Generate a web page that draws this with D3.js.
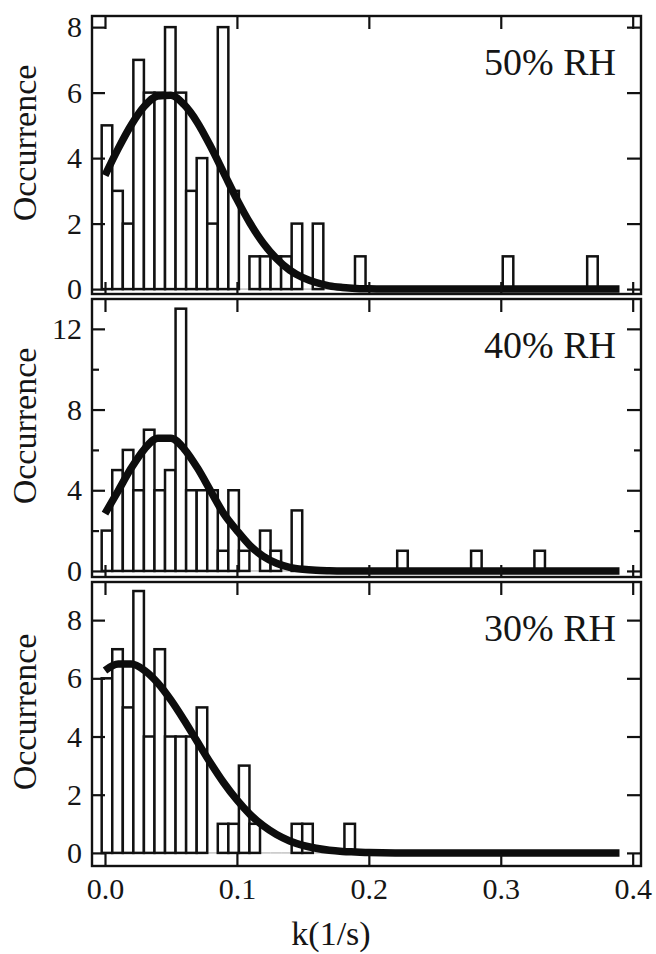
<!DOCTYPE html>
<html>
<head>
<meta charset="utf-8">
<script src="https://cdn.jsdelivr.net/npm/d3@7"></script>
<style>
body { margin: 0; background: #fff; }
svg text { font-family: "Liberation Serif", "Times New Roman", serif; fill: #151515; }
</style>
</head>
<body>
<svg id="chart" width="656" height="954"></svg>
<script>
var kTicks = [0, 0.1, 0.2, 0.3, 0.4];
var binWidth = 0.008;
var binCenters = [0.0015, 0.0095, 0.0175, 0.0255, 0.0335, 0.0415, 0.0495, 0.0575, 0.0655, 0.0735,
    0.0815, 0.0895, 0.0975, 0.1055, 0.1135, 0.1215, 0.1295, 0.1375, 0.1455, 0.1535,
    0.1615, 0.1695, 0.1775, 0.1855, 0.1935, 0.2015, 0.2095, 0.2175, 0.2255, 0.2335,
    0.2415, 0.2495, 0.2575, 0.2655, 0.2735, 0.2815, 0.2895, 0.2975, 0.3055, 0.3135,
    0.3215, 0.3295, 0.3375, 0.3455, 0.3535, 0.3615, 0.3695];
var counts50 = [5, 3, 2, 7, 6, 6, 8, 6, 3, 4, 2, 8, 3, 0, 1, 1, 1, 1, 2, 0,
    2, 0, 0, 0, 1, 0, 0, 0, 0, 0, 0, 0, 0, 0, 0, 0, 0, 0, 1, 0,
    0, 0, 0, 0, 0, 0, 1];
var counts40 = [2, 5, 6, 4, 7, 4, 5, 13, 4, 4, 4, 1, 4, 1, 0, 2, 1, 0, 3, 0,
    0, 0, 0, 0, 0, 0, 0, 0, 1, 0, 0, 0, 0, 0, 0, 1, 0, 0, 0, 0,
    0, 1, 0, 0, 0, 0, 0];
var counts30 = [6, 7, 5, 9, 4, 7, 4, 4, 4, 5, 0, 1, 1, 3, 1, 0, 0, 0, 1, 1,
    0, 0, 0, 1, 0, 0, 0, 0, 0, 0, 0, 0, 0, 0, 0, 0, 0, 0, 0, 0,
    0, 0, 0, 0, 0, 0, 0];
// fitted curves
var fitK = [0, 0.01, 0.02, 0.03, 0.04, 0.05, 0.06, 0.07, 0.08, 0.09, 0.10, 0.11,
    0.12, 0.13, 0.14, 0.15, 0.16, 0.17, 0.18, 0.19, 0.20, 0.22, 0.30, 0.39];
var fit50 = [3.47, 4.29, 5.02, 5.59, 5.90, 5.92, 5.63, 5.09, 4.36, 3.55, 2.74, 2.01,
    1.40, 0.93, 0.58, 0.35, 0.20, 0.10, 0.05, 0.02, 0.01, 0, 0, 0];
var fit40 = [2.84, 3.97, 5.11, 6.05, 6.58, 6.58, 6.05, 5.11, 3.97, 2.84, 2.0, 1.25,
    0.72, 0.38, 0.18, 0.08, 0.03, 0.01, 0, 0, 0, 0, 0, 0];
var fit30 = [6.27, 6.49, 6.49, 6.27, 5.84, 5.25, 4.56, 3.82, 3.09, 2.41, 1.82, 1.32,
    0.93, 0.63, 0.41, 0.26, 0.16, 0.09, 0.05, 0.03, 0.01, 0, 0, 0];

var FRAME = { LEFT: 92, RIGHT: 641 };
var svg = d3.select('#chart');

var x = d3.scaleLinear()
    .domain([-0.00985, 0.4063])
    .range([FRAME.LEFT, FRAME.RIGHT]);

var panels = [
    { label: '50% RH', counts: counts50, fit: fit50, top: 16, bottom: 294, yMin: -0.15, yMax: 8.34, major: [0, 2, 4, 6, 8], minor: [] },
    { label: '40% RH', counts: counts40, fit: fit40, top: 299, bottom: 577, yMin: -0.3, yMax: 13.48, major: [0, 4, 8, 12], minor: [2, 6, 10] },
    { label: '30% RH', counts: counts30, fit: fit30, top: 582, bottom: 866, yMin: -0.45, yMax: 9.31, major: [0, 2, 4, 6, 8], minor: [] }
];

var styleAxis = function (g) {
    g.select('.domain').remove();
    g.selectAll('.tick line').attr('stroke', '#111').attr('stroke-width', 2.2);
    g.selectAll('.tick text').style('font-size', '30px').attr('fill', '#151515');
};

panels.forEach(function (p, pi) {
    var y = d3.scaleLinear()
        .domain([p.yMin, p.yMax])
        .range([p.bottom, p.top]);
    var g = svg.append('g').attr('class', 'panel');

    var bins = binCenters.map(function (c, i) { return { k: c, n: p.counts[i] }; });
    var lastBin = d3.max(bins, function (d, i) { return d.n > 0 ? i : 0; });

    // empty bins show as a faint base line
    g.selectAll('line.empty')
        .data(bins.filter(function (d, i) { return d.n === 0 && i < lastBin; }))
        .enter().append('line')
        .attr('class', 'empty')
        .attr('x1', function (d) { return x(d.k - binWidth / 2); })
        .attr('x2', function (d) { return x(d.k + binWidth / 2); })
        .attr('y1', y(0)).attr('y2', y(0))
        .attr('stroke', '#c4c4c4')
        .attr('stroke-width', 1.5);

    g.selectAll('rect.bar')
        .data(bins.filter(function (d) { return d.n > 0; }))
        .enter().append('rect')
        .attr('class', 'bar')
        .attr('x', function (d) { return x(d.k - binWidth / 2); })
        .attr('width', function (d) { return x(d.k + binWidth / 2) - x(d.k - binWidth / 2); })
        .attr('y', function (d) { return y(d.n); })
        .attr('height', function (d) { return y(0) - y(d.n); })
        .attr('fill', '#fff')
        .attr('stroke', '#111')
        .attr('stroke-width', 2.5);

    var line = d3.line()
        .x(function (d) { return x(d[0]); })
        .y(function (d) { return y(d[1]); })
        .curve(d3.curveMonotoneX);
    g.append('path')
        .datum(fitK.map(function (k, i) { return [k, p.fit[i]]; }))
        .attr('d', line)
        .attr('fill', 'none')
        .attr('stroke', '#0d0d0d')
        .attr('stroke-width', 7.5);

    // frame
    g.append('rect')
        .attr('x', FRAME.LEFT).attr('y', p.top)
        .attr('width', FRAME.RIGHT - FRAME.LEFT)
        .attr('height', p.bottom - p.top)
        .attr('fill', 'none')
        .attr('stroke', '#111')
        .attr('stroke-width', 2.4);

    g.append('g')
        .attr('transform', 'translate(' + FRAME.LEFT + ',0)')
        .call(d3.axisLeft(y).tickValues(p.major).tickSize(-13).tickPadding(10).tickFormat(d3.format('d')))
        .call(styleAxis);
    g.append('g')
        .attr('transform', 'translate(' + FRAME.LEFT + ',0)')
        .call(d3.axisLeft(y).tickValues(p.minor).tickSize(-7).tickFormat(''))
        .call(styleAxis);
    g.append('g')
        .attr('transform', 'translate(' + FRAME.RIGHT + ',0)')
        .call(d3.axisRight(y).tickValues(p.major).tickSize(-14).tickFormat(''))
        .call(styleAxis);
    g.append('g')
        .attr('transform', 'translate(' + FRAME.RIGHT + ',0)')
        .call(d3.axisRight(y).tickValues(p.minor).tickSize(-7).tickFormat(''))
        .call(styleAxis);
    g.append('g')
        .attr('transform', 'translate(0,' + p.top + ')')
        .call(d3.axisTop(x).tickValues(kTicks).tickSize(-13).tickFormat(''))
        .call(styleAxis);
    var bottomAxis = d3.axisBottom(x).tickValues(kTicks).tickSize(-12).tickPadding(12)
        .tickFormat(pi === panels.length - 1 ? d3.format('.1f') : '');
    g.append('g')
        .attr('transform', 'translate(0,' + p.bottom + ')')
        .call(bottomAxis)
        .call(styleAxis);

    g.append('text')
        .attr('x', 616)
        .attr('y', p.top + 59)
        .attr('text-anchor', 'end')
        .style('font-size', '38px')
        .text(p.label);

    g.append('text')
        .attr('transform', 'translate(36,' + ((p.top + p.bottom) / 2 - 12) + ') rotate(-90)')
        .attr('text-anchor', 'middle')
        .style('font-size', '34px')
        .text('Occurrence');
});

svg.append('text')
    .attr('x', 331)
    .attr('y', 945)
    .attr('text-anchor', 'middle')
    .style('font-size', '34px')
    .text('k(1/s)');
</script>
</body>
</html>
